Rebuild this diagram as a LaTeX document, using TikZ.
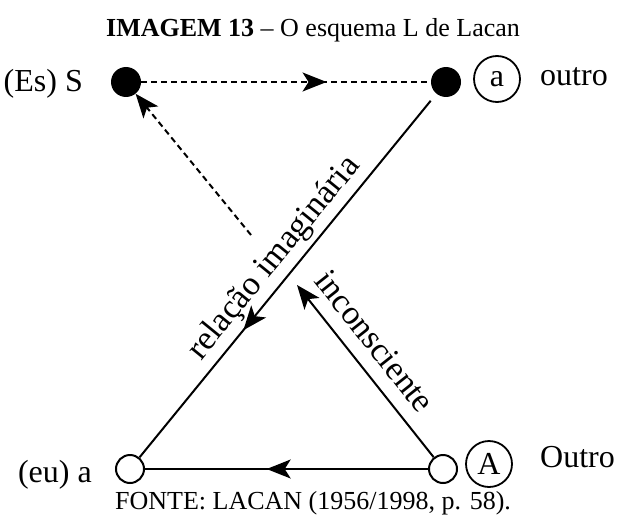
\documentclass[tikz,border=0pt]{standalone}
\usepackage{fontspec}
\setmainfont{Liberation Serif}
\usetikzlibrary{arrows.meta, decorations.markings}

\newcommand\figcapfont{\fontsize{26}{30}\selectfont}
\newcommand\figlblfont{\fontsize{32}{36}\selectfont}
\newcommand\figrotfont{\fontsize{34}{38}\selectfont}

\tikzset{
  dot/.style={circle, fill=black, minimum size=30pt, inner sep=0pt},
  hole/.style={circle, draw, line width=2pt, minimum size=28pt, inner sep=0pt},
  ring/.style={circle, draw, line width=1.8pt, minimum size=46pt, inner sep=0pt, font=\figlblfont},
  lbl/.style={inner sep=0pt, font=\figlblfont},
  link/.style={line width=2pt},
  dashlink/.style={line width=2pt, dash pattern=on 6pt off 4pt},
  endarrow/.style={-{Stealth[length=24pt, width=19pt, inset=6pt]}},
  midarrow/.style={postaction={decorate}, decoration={markings,
      mark=at position #1 with {\arrow{Stealth[length=24pt, width=19pt, inset=6pt]}}}},
  rot/.style={sloped, inner sep=0pt, text depth=0pt, font=\figrotfont},
}

\begin{document}
\begin{tikzpicture}[x=1pt, y=-1pt]
\useasboundingbox (0,0) rectangle (620,516);
% caption lines
\node[anchor=base west, inner sep=0pt, font=\figcapfont] (title) at (106,37) {\textbf{IMAGEM 13} – O esquema L de Lacan};
\node[anchor=base west, inner sep=0pt, font=\figcapfont] (source) at (115,509) {FONTE: LACAN (1956/1998, p. 58).};
% corners of the L
\node[dot] (S) at (126,82) {};
\node[dot] (a) at (446,82) {};
\node[hole] (eu) at (130,469) {};
\node[hole] (A) at (443,469) {};
\node[ring] (aring) at (497,79) {a};
\node[ring] (Aring) at (489,464) {A};
\node[lbl, anchor=base east] (Slbl) at (83,92) {(Es) S};
\node[lbl, anchor=base west] (olbl) at (540,85) {outro};
\node[lbl, anchor=base east] (eulbl) at (92,482) {(eu) a};
\node[lbl, anchor=base west] (Olbl) at (540,467) {Outro};
\coordinate (dend) at (251,235);
\coordinate (up) at (297,285);
% connectors
\draw[dashlink, midarrow=0.64] (S) -- (a);
\draw[dashlink, endarrow] (dend) -- (S);
\draw[link, midarrow=0.65, shorten <=9pt] (a) -- (eu)
  node[rot, above=12pt, pos=0.49] {relação imaginária};
\draw[link, endarrow] (A) -- (up)
  node[rot, above=14pt, pos=0.58] {inconsciente};
\draw[link, midarrow=0.57] (A) -- (eu);
\end{tikzpicture}
\end{document}
